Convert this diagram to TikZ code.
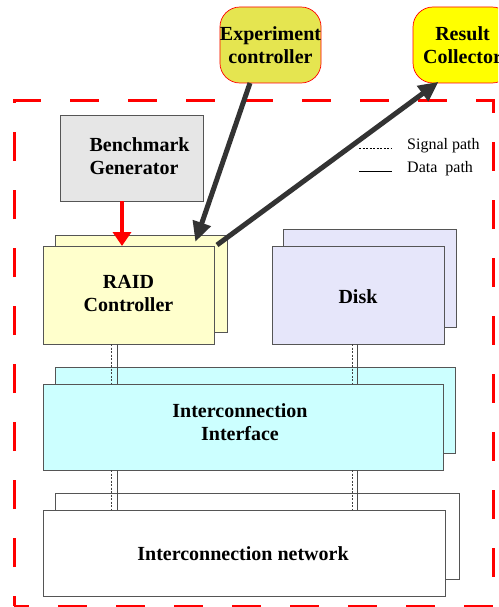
\documentclass[tikz,border=0pt]{standalone}
\usepackage{fontspec}
\setmainfont{Liberation Serif}
\usetikzlibrary{arrows.meta}
\definecolor{expc}{HTML}{E5E550}
\definecolor{resc}{HTML}{FFFF00}
\definecolor{benc}{HTML}{E6E6E6}
\definecolor{raidc}{HTML}{FFFFCC}
\definecolor{diskc}{HTML}{E6E6FA}
\definecolor{ifc}{HTML}{CCFFFF}
\definecolor{darkarrow}{HTML}{333333}
\definecolor{boxline}{HTML}{555555}
\begin{document}
\begin{tikzpicture}[x=1pt,y=-1pt,
  card/.style={draw=boxline, line width=0.9pt},
  lbl/.style={font=\fontsize{20}{23}\selectfont\bfseries, align=center},
  roundbox/.style={draw=red, line width=0.7pt, rounded corners=20pt, minimum width=99pt, minimum height=76pt, inner sep=0pt, lbl},
  bigarrow/.style={draw=darkarrow, line width=5pt, -{Triangle[length=20pt,width=18pt]}, shorten >=-2pt},
  vsig/.style={draw=black!75, line width=0.6pt, dash pattern=on 2pt off 1.5pt},
  vdat/.style={draw=black!70, line width=0.8pt}
]
\clip (0,0) rectangle (498,607);
\useasboundingbox (0,0) rectangle (498,607);
\fill[white] (0,0) rectangle (498,607);

% outer dashed boundary
\draw[red, line width=3pt, dash pattern=on 29pt off 29pt, dash phase=19pt] (14,606) -- (14,101) -- (493,101) -- (493,606) -- cycle;

% top nodes
\node[roundbox, fill=expc] (exp) at (270.5,45) {Experiment\\controller};
\node[roundbox, fill=resc] (res) at (462.5,45) {Result\\Collector};

% Benchmark generator
\draw[card, fill=benc] (60,115) rectangle (203,201);
\node[lbl, align=left, anchor=west] (bench) at (86,156) {Benchmark\\Generator};
\coordinate (benchS) at (122,201);

% vertical paths (behind boxes)
\draw[vsig] (111,344) -- (111,510);
\draw[vdat] (117,344) -- (117,510);
\draw[vsig] (352,344) -- (352,510);
\draw[vdat] (357,344) -- (357,510);

% RAID controller
\draw[card, fill=raidc] (55,235) rectangle (227,332);
\draw[card, fill=raidc] (43,246) rectangle (214,344);
\node[lbl] (raid) at (128.5,293) {RAID\\Controller};
\coordinate (raidN) at (122,246);
\coordinate (raidIn) at (196,240);
\coordinate (raidOut) at (217,245);

% Disk
\draw[card, fill=diskc] (283,229) rectangle (456,327);
\draw[card, fill=diskc] (272,246) rectangle (444,344);
\node[lbl] (disk) at (358,297) {Disk};

% Interconnection interface
\draw[card, fill=ifc] (55,367) rectangle (455,453);
\draw[card, fill=ifc] (43,384) rectangle (443,470);
\node[lbl] (iface) at (240,422) {Interconnection\\Interface};

% Interconnection network
\draw[card, fill=white] (55,493) rectangle (459,579);
\draw[card, fill=white] (43,510) rectangle (445,596);
\node[lbl] (net) at (243,554) {Interconnection network};

% re-draw vertical paths over back cards
\draw[vsig] (111,344) -- (111,384);
\draw[vdat] (117,344) -- (117,384);
\draw[vsig] (352,344) -- (352,384);
\draw[vdat] (357,344) -- (357,384);
\draw[vsig] (111,470) -- (111,510);
\draw[vdat] (117,470) -- (117,510);
\draw[vsig] (352,470) -- (352,510);
\draw[vdat] (357,470) -- (357,510);

% legend
\coordinate (sigA) at (359,148);
\coordinate (sigB) at (392,148);
\coordinate (datA) at (359,171);
\coordinate (datB) at (392,171);
\draw[black, line width=0.6pt, dash pattern=on 2pt off 1.5pt] (sigA) -- (sigB);
\draw[black, line width=0.7pt] (datA) -- (datB);
\node[anchor=west, inner sep=0pt, font=\fontsize{16}{18}\selectfont] (sigl) at (407,146) {Signal path};
\node[anchor=west, inner sep=0pt, font=\fontsize{16}{18}\selectfont] (datl) at (407,169) {Data\ \ path};

% arrows
\draw[red, line width=4.5pt, -{Triangle[length=14pt,width=18pt]}] (benchS) -- (raidN);
\coordinate (expS) at (250,83);
\coordinate (resS) at (437,83);
\draw[bigarrow] (expS) -- (raidIn);
\draw[bigarrow] (raidOut) -- (resS);
\end{tikzpicture}
\end{document}
